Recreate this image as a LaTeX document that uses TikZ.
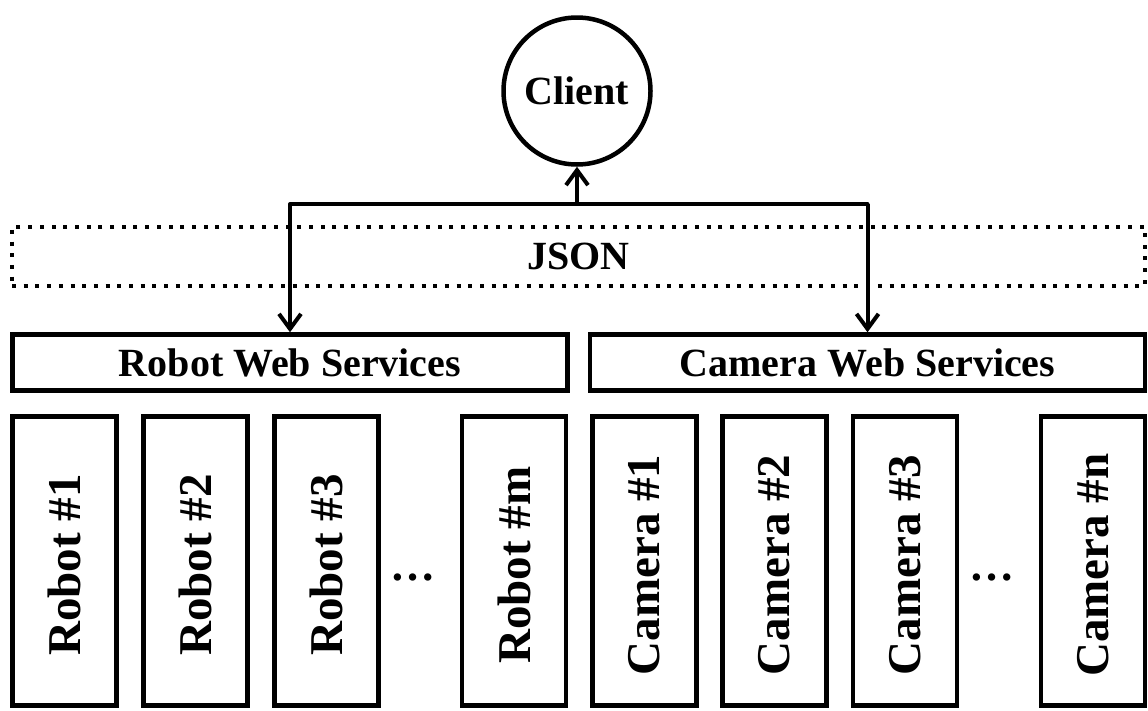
\documentclass[tikz,border=0pt]{standalone}
\usepackage{fontspec}
\setmainfont{Liberation Serif}
\usetikzlibrary{arrows.meta}

\tikzset{
  box/.style={draw, line width=4.5pt, inner sep=0pt, font=\bfseries\fontsize{40}{44}\selectfont},
  wsbox/.style={box, minimum width=555pt, minimum height=56pt},
  unitbox/.style={box, minimum width=104pt, minimum height=289pt},
  unitlabel/.style={rotate=90, font=\bfseries\fontsize{47}{52}\selectfont, inner sep=0pt},
  clientnode/.style={circle, draw, line width=4.5pt, minimum size=147pt, inner sep=0pt,
                     font=\bfseries\fontsize{40}{44}\selectfont},
  jsonbox/.style={draw, line width=4pt, dash pattern=on 4pt off 7.7pt,
                  minimum width=1133pt, minimum height=59pt, inner sep=0pt,
                  font=\bfseries\fontsize{40}{44}\selectfont},
  link/.style={line width=4pt},
  arr/.style={link, -{Straight Barb[length=15pt, width=22pt, line width=4pt]}},
  ellip/.style={font=\bfseries\fontsize{45}{50}\selectfont, inner sep=0pt}
}

\begin{document}
\begin{tikzpicture}[x=1pt, y=-1pt]
  \useasboundingbox (0,0) rectangle (1148,710);

  % client at the top
  \node[clientnode] (client) at (577,91) {Client};

  % JSON exchange layer
  \node[jsonbox] (json) at (578.5,256) {JSON};

  % web service layers
  \node[wsbox] (rws) at (290,362.5) {Robot Web Services};
  \node[wsbox] (cws) at (867.5,362.5) {Camera Web Services};

  % robots
  \node[unitbox] (r1) at (64.5,561) {};
  \node[unitlabel] at ([yshift=-4pt]r1.center) {Robot \#1};
  \node[unitbox] (r2) at (195.5,561) {};
  \node[unitlabel] at ([yshift=-4pt]r2.center) {Robot \#2};
  \node[unitbox] (r3) at (326.5,561) {};
  \node[unitlabel] at ([yshift=-4pt]r3.center) {Robot \#3};
  \node[ellip] (rdots) at (413,577) {…};
  \node[unitbox] (rm) at (514,561) {};
  \node[unitlabel] at ([yshift=-4pt]rm.center) {Robot \#m};

  % cameras
  \node[unitbox] (c1) at (644.5,561) {};
  \node[unitlabel] at ([yshift=-4pt]c1.center) {Camera \#1};
  \node[unitbox] (c2) at (774.5,561) {};
  \node[unitlabel] at ([yshift=-4pt]c2.center) {Camera \#2};
  \node[unitbox] (c3) at (905,561) {};
  \node[unitlabel] at ([yshift=-4pt]c3.center) {Camera \#3};
  \node[ellip] (cdots) at (992,577) {…};
  \node[unitbox] (cn) at (1093,561) {};
  \node[unitlabel] at ([yshift=-4pt]cn.center) {Camera \#n};

  % bus between client and web services
  \coordinate (bus) at (0,204);
  \draw[link, line cap=round] (bus -| rws.north) -- (bus -| cws.north);
  \draw[arr] (bus -| client.south) -- (client.south);
  \draw[arr] (bus -| rws.north) -- (rws.north);
  \draw[arr] (bus -| cws.north) -- (cws.north);
\end{tikzpicture}
\end{document}
